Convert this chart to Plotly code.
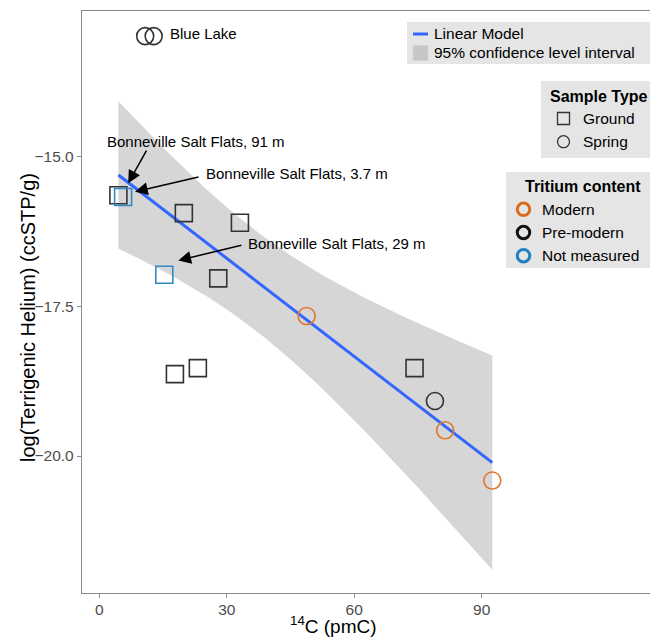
import numpy as np
import plotly.graph_objects as go

# ---------------- data ----------------
c14_pmc = [10.8, 12.8, 4.5, 5.6, 19.9, 33.1, 15.3, 28.0, 17.8, 23.2, 74.2, 48.8, 79.0, 81.4, 92.5]
log_terrigenic_he = [-12.98, -12.98, -15.64, -15.67, -15.94, -16.10, -16.97, -17.03,
                     -18.63, -18.53, -18.53, -17.66, -19.08, -19.57, -20.41]
sample_type = ["Spring", "Spring", "Ground", "Ground", "Ground", "Ground", "Ground", "Ground",
               "Ground", "Ground", "Ground", "Spring", "Spring", "Spring", "Spring"]
tritium = ["Pre-modern", "Pre-modern", "Pre-modern", "Not measured", "Pre-modern", "Pre-modern",
           "Not measured", "Pre-modern", "Pre-modern", "Pre-modern", "Pre-modern", "Modern",
           "Pre-modern", "Modern", "Modern"]

type_levels = ["Ground", "Spring"]
tritium_levels = ["Modern", "Pre-modern", "Not measured"]
fit_legend_labels = ["Linear Model", "95% confidence level interval"]

x_ticks = [0, 30, 60, 90]
y_ticks = [-15.0, -17.5, -20.0]

label_texts = ["Blue Lake", "Bonneville Salt Flats, 91 m", "Bonneville Salt Flats, 3.7 m",
               "Bonneville Salt Flats, 29 m"]
label_x = [16.2, 1.4, 24.7, 34.6]
label_y = [-12.94, -14.75, -15.28, -16.44]
arrow_tail_x = [11.3, 23.7, 33.8]
arrow_tail_y = [-14.87, -15.33, -16.47]
arrow_tip_x = [6.8, 8.4, 18.6]
arrow_tip_y = [-15.44, -15.58, -16.73]

# ---------------- styles ----------------
FONT = "Liberation Sans, Arial, Helvetica, sans-serif"
symbol_map = {"Ground": "square-open", "Spring": "circle-open"}
color_map = {"Modern": "#E0782E", "Pre-modern": "#333333", "Not measured": "#2E8BC6"}
legend_color_map = {"Modern": "#DC6A1E", "Pre-modern": "#111111", "Not measured": "#2080C0"}
LEG_BG = "#e5e5e5"

# Page body has an 8px margin; plot area should land at screen x 82..658, y 11..593
PL, PR, PT, PB = 82.0, 658.0, 11.0, 593.0


def px(xp):
    return (xp - PL) / (PR - PL)


def py(yp):
    return (PB - yp) / (PB - PT)


# ---------------- linear model + 95% CI ----------------
x = np.array(c14_pmc)
y = np.array(log_terrigenic_he)
n = len(x)
slope, intercept = np.polyfit(x, y, 1)
resid = y - (intercept + slope * x)
s = np.sqrt(np.sum(resid ** 2) / (n - 2))
sxx = np.sum((x - x.mean()) ** 2)
T975 = 2.160  # Student t quantile, df = 13
xs = np.linspace(x.min(), x.max(), 80)
ys = intercept + slope * xs
half = T975 * s * np.sqrt(1.0 / n + (xs - x.mean()) ** 2 / sxx)
upper = ys + half
lower = ys - half

fig = go.Figure()

fig.add_trace(go.Scatter(
    x=np.concatenate([xs, xs[::-1]]), y=np.concatenate([upper, lower[::-1]]),
    fill="toself", fillcolor="rgba(153,153,153,0.4)", line=dict(width=0),
    mode="lines", name=fit_legend_labels[1], showlegend=False, hoverinfo="skip"))
fig.add_trace(go.Scatter(
    x=xs, y=ys, mode="lines", line=dict(color="#3366FF", width=3),
    name=fit_legend_labels[0], showlegend=False))

for st in type_levels:
    for tr in tritium_levels:
        idx = [i for i in range(n) if sample_type[i] == st and tritium[i] == tr]
        if not idx:
            continue
        fig.add_trace(go.Scatter(
            x=[c14_pmc[i] for i in idx], y=[log_terrigenic_he[i] for i in idx],
            mode="markers", showlegend=False, name=f"{st} / {tr}",
            marker=dict(symbol=symbol_map[st], size=17, color=color_map[tr],
                        line=dict(width=1.6, color=color_map[tr]))))

# ---------------- annotations on data ----------------
for t, lx, ly in zip(label_texts, label_x, label_y):
    fig.add_annotation(x=lx, y=ly, text=t, showarrow=False, xanchor="left", yanchor="middle",
                       font=dict(family=FONT, size=15, color="#000000"))
for tx, ty, hx, hy in zip(arrow_tail_x, arrow_tail_y, arrow_tip_x, arrow_tip_y):
    fig.add_annotation(x=hx, y=hy, ax=tx, ay=ty, axref="x", ayref="y", text="",
                       showarrow=True, arrowhead=2, arrowsize=1.7, arrowwidth=1.5,
                       arrowcolor="#000000")

# ---------------- axis titles ----------------
fig.add_annotation(xref="paper", yref="paper", x=px(333), y=py(625), text="<sup>14</sup>C (pmC)",
                   showarrow=False, xanchor="center", yanchor="middle",
                   font=dict(family=FONT, size=19, color="#000000"))
fig.add_annotation(xref="paper", yref="paper", x=px(28), y=py(318),
                   text="log(Terrigenic Helium) (ccSTP/g)", textangle=-90,
                   showarrow=False, xanchor="center", yanchor="middle",
                   font=dict(family=FONT, size=20, color="#000000"))

# ---------------- manual legends ----------------
shapes = []


def box(x0, y0, x1, y1):
    shapes.append(dict(type="rect", xref="paper", yref="paper", x0=px(x0), x1=px(x1),
                       y0=py(y1), y1=py(y0), fillcolor=LEG_BG, line=dict(width=0),
                       layer="above"))


def key_shape(kind, cx, cy, size, color, width, fill="rgba(0,0,0,0)"):
    h = size / 2.0
    shapes.append(dict(type=kind, xref="paper", yref="paper", xsizemode="pixel",
                       ysizemode="pixel", xanchor=px(cx), yanchor=py(cy),
                       x0=-h, x1=h, y0=-h, y1=h, fillcolor=fill,
                       line=dict(color=color, width=width), layer="above"))


def legend_text(txt, lx, ly, size=15.5, bold=False):
    fig.add_annotation(xref="paper", yref="paper", x=px(lx), y=py(ly),
                       text=f"<b>{txt}</b>" if bold else txt, showarrow=False,
                       xanchor="left", yanchor="middle",
                       font=dict(family=FONT, size=size, color="#000000"))


# legend 1: fit
box(407, 22, 656, 64)
shapes.append(dict(type="line", xref="paper", yref="paper", x0=px(413), x1=px(428),
                   y0=py(34), y1=py(34), line=dict(color="#3366FF", width=3), layer="above"))
key_shape("rect", 420.5, 53, 15, "#d4d4d4", 1, fill="#c6c6c6")
legend_text(fit_legend_labels[0], 432, 34)
legend_text(fit_legend_labels[1], 432, 53)

# legend 2: sample type
box(541, 81, 656, 158)
legend_text("Sample Type", 548, 96, size=16, bold=True)
key_shape("rect", 563.5, 118.5, 12, "#333333", 1.3)
key_shape("circle", 563.5, 141.7, 12, "#333333", 1.3)
legend_text(type_levels[0], 581, 118.5)
legend_text(type_levels[1], 581, 141.7)

# legend 3: tritium
box(506, 172, 656, 268)
legend_text("Tritium content", 523, 186, size=16, bold=True)
for tr, yy in zip(tritium_levels, [209.3, 232.5, 255.7]):
    key_shape("circle", 523.5, yy, 12.5, legend_color_map[tr], 3)
    legend_text(tr, 540, yy)

axis_common = dict(showgrid=False, zeroline=False, showline=True, mirror=True,
                   linecolor="#8a8a8a", linewidth=1.3, ticks="outside", ticklen=4,
                   tickcolor="#8a8a8a", tickwidth=1.2,
                   tickfont=dict(family=FONT, size=15.5, color="#4d4d4d"))

fig.update_layout(
    width=658, height=637,
    margin=dict(l=74, r=8, t=3, b=52),
    paper_bgcolor="#ffffff", plot_bgcolor="#ffffff",
    font=dict(family=FONT),
    xaxis=dict(range=[-4.07, 131.5], tickvals=x_ticks, ticklabelstandoff=-2, **axis_common),
    yaxis=dict(range=[-22.29, -12.56], tickvals=y_ticks, tickformat=".1f", **axis_common),
    shapes=shapes,
    showlegend=False,
)

fig.write_html("out.html")
